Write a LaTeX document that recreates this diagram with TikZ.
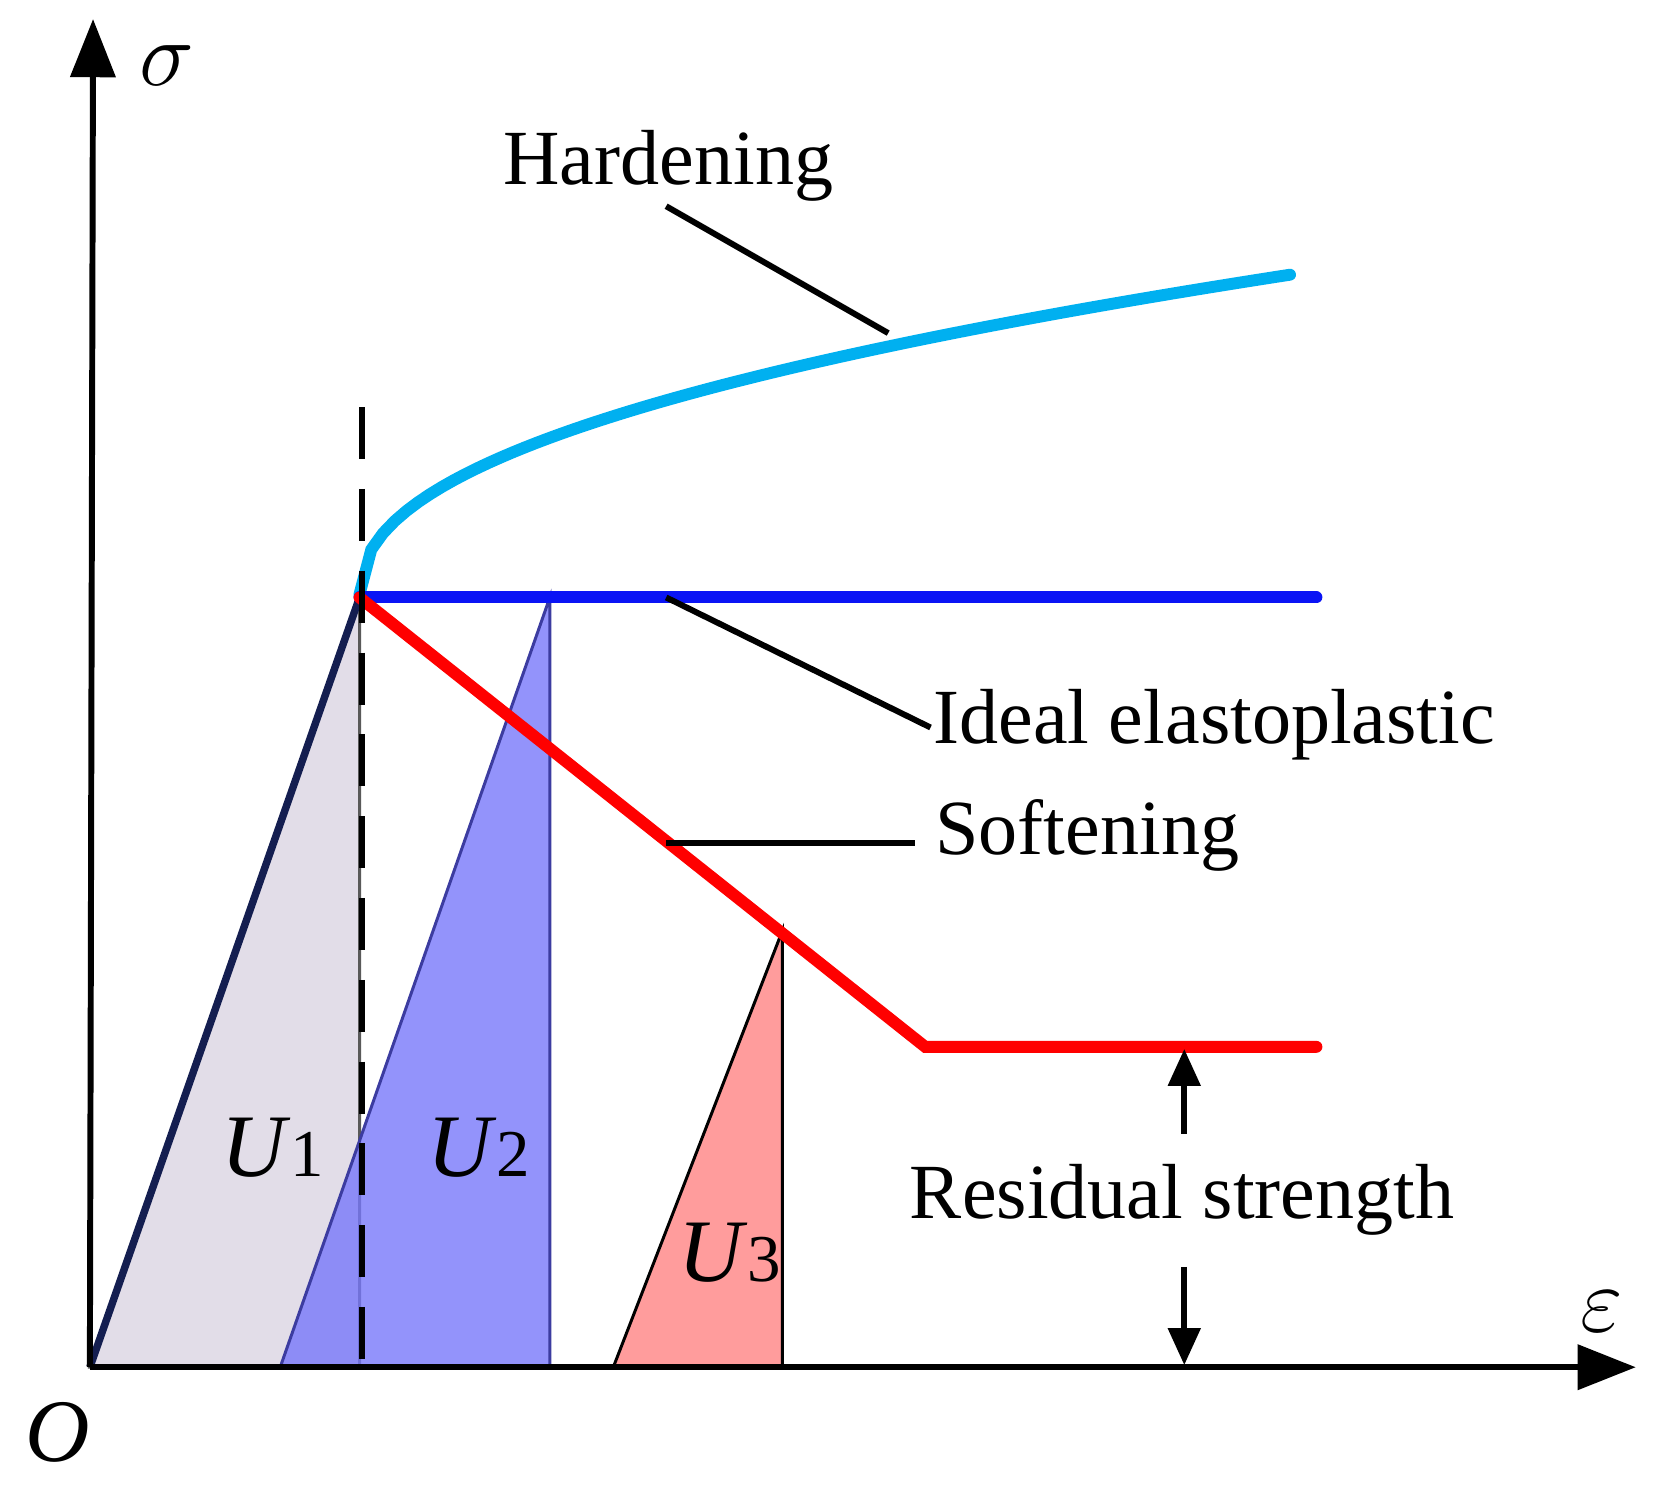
\documentclass[tikz,border=0pt]{standalone}
\usepackage{fontspec}
\setmainfont{Liberation Serif}
\usetikzlibrary{arrows.meta}
\definecolor{hard}{HTML}{00B0F0}
\definecolor{ideal}{HTML}{0A14F5}
\definecolor{soft}{HTML}{FF0000}
\begin{document}
\begin{tikzpicture}[x=0.01cm,y=-0.01cm,
  lbl/.style={font=\fontsize{21}{25}\selectfont, inner sep=0pt},
  ulbl/.style={font=\fontsize{24}{28}\selectfont\itshape, inner sep=0pt},
  lead/.style={line width=1.6pt},
  curve/.style={line width=3.2pt, line cap=round},
  axis/.style={line width=1.6pt, -{Triangle[length=0.55cm,width=0.42cm]}},
  tri/.style={draw=gray!70!black, line width=0.8pt}]
\useasboundingbox (0,0) rectangle (1568,1408);
% triangles
\fill[tri, fill={rgb,255:red,226;green,221;blue,232}] (85,1293) -- (340,565) -- (340,1293) -- cycle;
\fill[fill={rgb,255:red,120;green,120;blue,250}, fill opacity=0.8] (265,1293) -- (520,565) -- (520,1293) -- cycle;
\draw[draw={rgb,255:red,60;green,60;blue,160}, line width=0.8pt] (265,1293) -- (520,565) -- (520,1293);
\fill[fill={rgb,255:red,255;green,156;blue,156}] (580,1293) -- (740,880) -- (740,1293) -- cycle;
\draw[line width=0.8pt] (580,1293) -- (740,880) -- (740,1293);
% elastic line
\draw[line width=2pt, draw={rgb,255:red,20;green,30;blue,80}] (85,1293) -- (340,565);
% curves
\draw[curve, hard] plot[domain=0:880, samples=80] ({340+\x},{562-14.3*(\x)^(0.45)});
\draw[curve, ideal] (340,565) -- (1245,565);
\draw[curve, soft] (340,565) -- (875,990) -- (1245,990);
% dashed
\draw[line width=1.6pt, dash pattern=on 14pt off 8pt] (342,385) -- (342,1293);
% axes
\coordinate (O) at (85,1293);
\coordinate (Y) at (88,18);
\coordinate (X) at (1547,1293);
\draw[axis] (O) -- (Y);
\draw[axis] (O) -- (X);
\node[ulbl] (sig) at (158,62) {$\sigma$};
\node[ulbl] (eps) at (1515,1240) {$\varepsilon$};
\node[ulbl] (o) at (55,1355) {O};
% labels
\node[lbl] (hard) at (632,157) {Hardening};
\coordinate (h1) at (630,195); \coordinate (h2) at (840,315);
\draw[lead] (h1) -- (h2);
\node[lbl, anchor=west] (idl) at (882,685) {Ideal elastoplastic};
\coordinate (i1) at (630,565); \coordinate (i2) at (880,688);
\draw[lead] (i1) -- (i2);
\node[lbl, anchor=west] (sft) at (884,790) {Softening};
\coordinate (s1) at (630,797); \coordinate (s2) at (865,797);
\draw[lead] (s1) -- (s2);
\node[lbl] (res) at (1118,1135) {Residual strength};
\coordinate (r1) at (1120,1072); \coordinate (r2) at (1120,992);
\coordinate (r3) at (1120,1198); \coordinate (r4) at (1120,1291);
\draw[lead, -{Triangle[length=0.35cm,width=0.3cm]}] (r1) -- (r2);
\draw[lead, -{Triangle[length=0.35cm,width=0.3cm]}] (r3) -- (r4);
\node[ulbl] (u1) at (258,1085) {U\textup{\fontsize{18}{20}\selectfont 1}};
\node[ulbl] (u2) at (453,1085) {U\textup{\fontsize{18}{20}\selectfont 2}};
\node[ulbl] (u3) at (690,1185) {U\textup{\fontsize{18}{20}\selectfont 3}};
\end{tikzpicture}
\end{document}
